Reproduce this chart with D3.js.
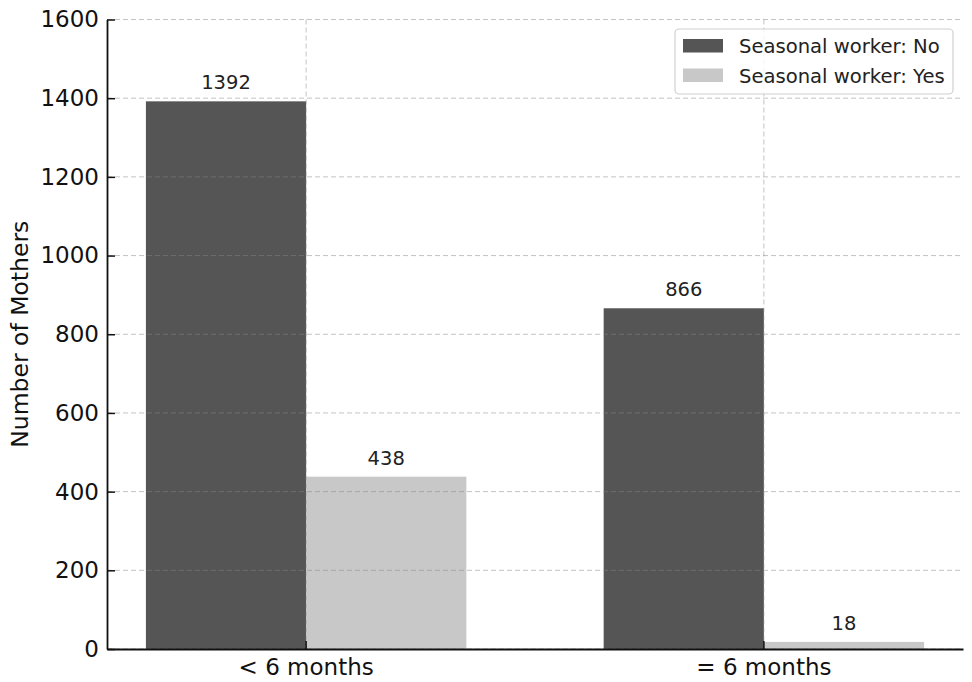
<!DOCTYPE html>
<html>
<head>
<meta charset="utf-8">
<script src="https://cdn.jsdelivr.net/npm/d3@7"></script>
<style>
  html, body { margin: 0; padding: 0; background: #fff; }
  svg { display: block; font-family: "DejaVu Sans", sans-serif; }
</style>
</head>
<body>
<svg id="chart" width="972" height="682"></svg>
<script>
const categories = ["< 6 months", "= 6 months"];
const seriesNames = ["Seasonal worker: No", "Seasonal worker: Yes"];
const valuesNo = [1392, 866];
const valuesYes = [438, 18];
const yTicks = [0, 200, 400, 600, 800, 1000, 1200, 1400, 1600];
const colors = ["#555555", "#c8c8c8"];

(function () {
const seriesValues = [valuesNo, valuesYes];
const svg = d3.select("#chart");
const pLeft = 107, pRight = 963, pTop = 19.5, pBottom = 649;

const x = d3.scaleBand().domain(categories).range([pLeft, pRight])
  .paddingInner(0.3).paddingOuter(0.085);
const xs = d3.scaleBand().domain(seriesNames).range([0, x.bandwidth()]);
const y = d3.scaleLinear().domain([0, 1600]).range([pBottom, pTop]);

// bars
const groups = svg.append("g").selectAll("g").data(categories).join("g")
  .attr("transform", d => `translate(${x(d)},0)`);
groups.selectAll("rect")
  .data((c, i) => seriesNames.map((s, j) => ({ s, j, v: seriesValues[j][i] })))
  .join("rect")
  .attr("x", d => xs(d.s))
  .attr("width", xs.bandwidth())
  .attr("y", d => y(d.v))
  .attr("height", d => y(0) - y(d.v))
  .attr("fill", d => colors[d.j]);

// grid (drawn above bars, translucent)
const grid = svg.append("g").attr("stroke", "#888").attr("stroke-opacity", 0.5)
  .attr("stroke-width", 1).attr("stroke-dasharray", "5,3");
grid.selectAll("line.h").data(yTicks).join("line").attr("class", "h")
  .attr("x1", pLeft).attr("x2", pRight)
  .attr("y1", d => y(d)).attr("y2", d => y(d));
grid.selectAll("line.v").data(categories).join("line").attr("class", "v")
  .attr("x1", d => x(d) + x.bandwidth() / 2).attr("x2", d => x(d) + x.bandwidth() / 2)
  .attr("y1", pTop).attr("y2", pBottom);

// bar labels
groups.selectAll("text.lbl")
  .data((c, i) => seriesNames.map((s, j) => ({ s, j, v: seriesValues[j][i] })))
  .join("text").attr("class", "lbl")
  .attr("x", d => xs(d.s) + xs.bandwidth() / 2)
  .attr("y", d => y(d.v) - 12)
  .attr("text-anchor", "middle")
  .attr("font-size", 19.5)
  .attr("fill", "#222")
  .text(d => d.v);

// axes
const yAxis = d3.axisLeft(y).tickValues(yTicks).tickFormat(d3.format("d"))
  .tickSize(-8).tickPadding(8).tickSizeOuter(0);
const gy = svg.append("g").attr("transform", `translate(${pLeft},0)`).call(yAxis);
gy.select(".domain").attr("stroke", "#111").attr("stroke-width", 1.8);
gy.selectAll(".tick line").attr("stroke", "#111").attr("stroke-width", 1.5);
gy.selectAll(".tick text").attr("font-size", 23).attr("fill", "#111")
  .attr("font-family", "DejaVu Sans, sans-serif");

const xAxis = d3.axisBottom(x).tickSize(-8).tickPadding(10).tickSizeOuter(0);
const gx = svg.append("g").attr("transform", `translate(0,${pBottom})`).call(xAxis);
gx.select(".domain").attr("stroke", "#111").attr("stroke-width", 1.8);
gx.selectAll(".tick line").attr("stroke", "#111").attr("stroke-width", 1.5);
gx.selectAll(".tick text").attr("font-size", 23).attr("fill", "#111")
  .attr("font-family", "DejaVu Sans, sans-serif");

// y label
svg.append("text")
  .attr("transform", `translate(28,${(pTop + pBottom) / 2}) rotate(-90)`)
  .attr("text-anchor", "middle")
  .attr("font-size", 23.5)
  .attr("fill", "#111")
  .text("Number of Mothers");

// legend
const lg = svg.append("g");
lg.append("rect").attr("x", 675).attr("y", 29).attr("width", 278).attr("height", 65)
  .attr("rx", 4).attr("fill", "#fff").attr("fill-opacity", 0.8)
  .attr("stroke", "#d0d0d0").attr("stroke-width", 1.2);
const items = lg.selectAll("g.item").data(seriesNames).join("g").attr("class", "item")
  .attr("transform", (d, i) => `translate(683,${39 + i * 29.5})`);
items.append("rect").attr("width", 40).attr("height", 13.5).attr("fill", (d, i) => colors[i]);
items.append("text").attr("x", 56).attr("y", 14).attr("font-size", 19.6).attr("fill", "#222")
  .text(d => d);
})();
</script>
</body>
</html>
